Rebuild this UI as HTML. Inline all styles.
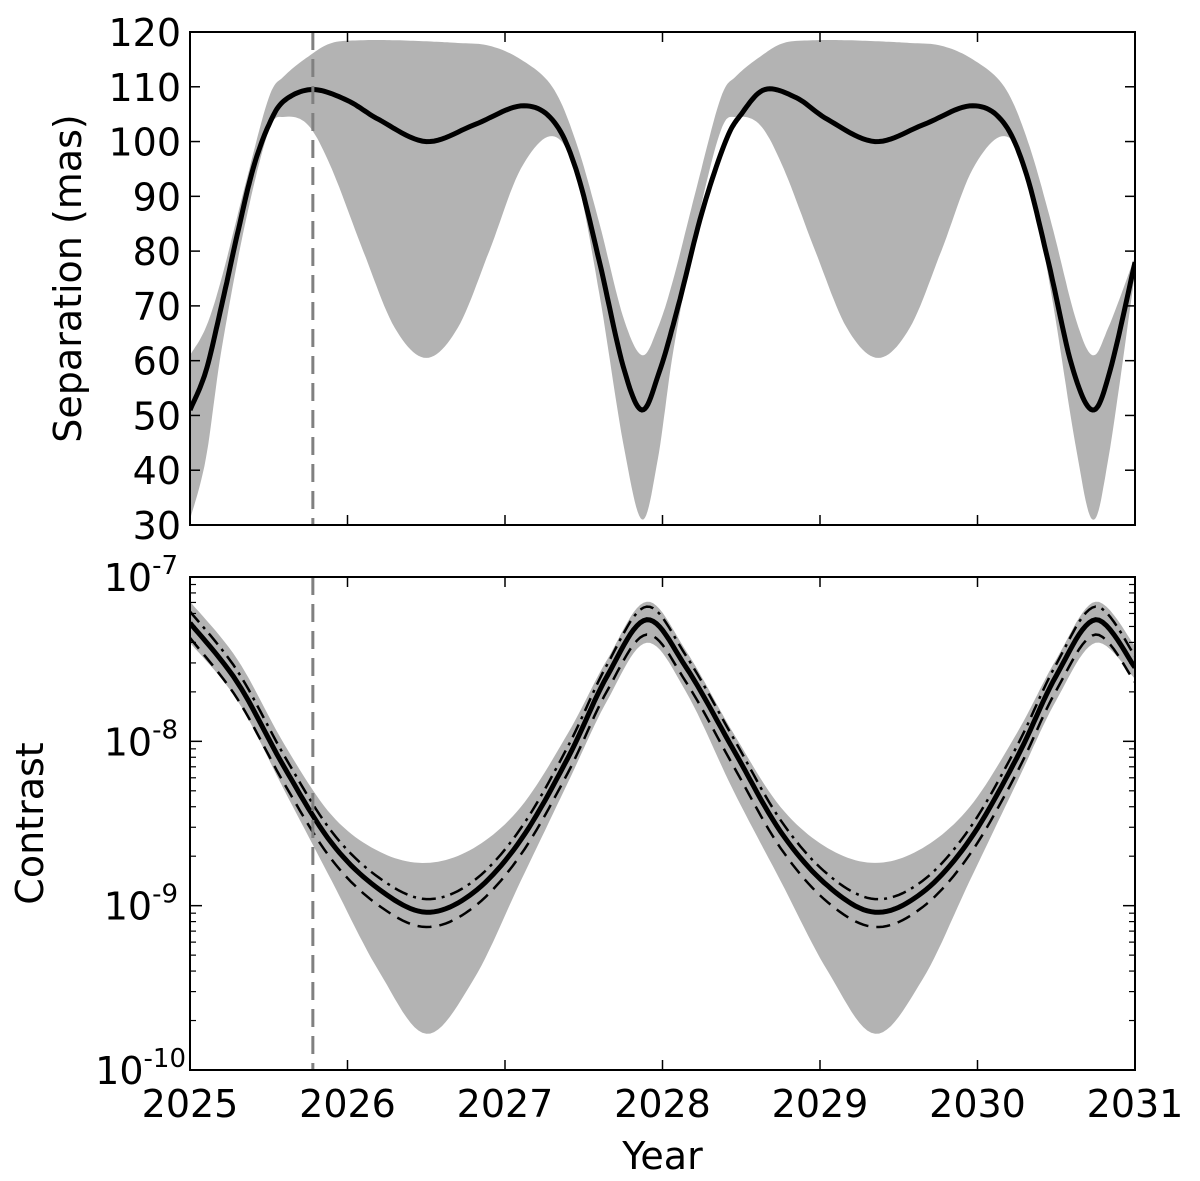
<!DOCTYPE html>
<html><head><meta charset="utf-8"><style>
html,body{margin:0;padding:0;background:#fff}
svg{display:block}
text{font-family:"DejaVu Sans","Liberation Sans",sans-serif;fill:#000}
</style></head><body>
<svg id="chart" width="1200" height="1181" viewBox="0 0 1200 1181" xmlns="http://www.w3.org/2000/svg"></svg>
<script>
// ---- data ----
const sepYears = [2025.0,2025.1,2025.2,2025.3,2025.4,2025.5,2025.6,2025.78,2026.0,2026.2,2026.5,2026.8,2027.1,2027.3,2027.45,2027.6,2027.75,2027.87,2027.98,2028.1,2028.25,2028.4,2028.5,2028.65,2028.85,2029.05,2029.35,2029.65,2029.95,2030.15,2030.3,2030.45,2030.6,2030.73,2030.84,2031.0];
const sepMain = [51,58,70,83,95,103,107.5,109.5,107.5,104,100,103,106.5,104,95,78,59,51,58,70,87,100,105,109.5,108,104,100,103,106.5,104,95,78,59,51,58,78];
const sepBandYears = [2025.0,2025.1,2025.2,2025.35,2025.5,2025.6,2025.75,2025.9,2026.1,2026.3,2026.5,2026.7,2026.9,2027.1,2027.3,2027.45,2027.6,2027.75,2027.87,2027.97,2028.07,2028.22,2028.37,2028.47,2028.62,2028.77,2028.97,2029.17,2029.37,2029.57,2029.77,2029.97,2030.17,2030.32,2030.47,2030.62,2030.73,2030.83,2031.0];
const sepUpper = [61,66,75,92,108,112,115.5,118,118.5,118.5,118.3,118,117.5,115,110,100,85,68,61,66,75,92,108,112,115.5,118,118.5,118.5,118.3,118,117.5,115,110,100,85,68,61,66,79];
const sepLower = [31,42,62,85,102,104.5,103,95,80,66,60.5,66,80,95,101,94,72,45,31,42,62,85,102,104.5,103,95,80,66,60.5,66,80,95,101,94,72,45,31,42,76];
const conYears = [2025.0,2025.3,2025.6,2025.9,2026.2,2026.5,2026.8,2027.1,2027.4,2027.65,2027.9,2028.15,2028.45,2028.75,2029.05,2029.35,2029.65,2029.95,2030.25,2030.5,2030.75,2031.0];
const conMain = [-7.28,-7.64,-8.16,-8.62,-8.9,-9.04,-8.92,-8.6,-8.1,-7.6,-7.26,-7.55,-8.05,-8.55,-8.88,-9.04,-8.92,-8.6,-8.1,-7.6,-7.26,-7.55];
const conDashed = [-7.37,-7.74,-8.26,-8.72,-9.0,-9.13,-9.01,-8.69,-8.19,-7.69,-7.35,-7.64,-8.15,-8.65,-8.98,-9.13,-9.01,-8.69,-8.19,-7.69,-7.35,-7.64];
const conDashDot = [-7.21,-7.57,-8.09,-8.55,-8.83,-8.96,-8.85,-8.53,-8.03,-7.53,-7.18,-7.48,-7.98,-8.48,-8.81,-8.96,-8.85,-8.53,-8.03,-7.53,-7.18,-7.48];
const conUpper = [-7.15,-7.5,-8.02,-8.45,-8.67,-8.74,-8.65,-8.4,-7.95,-7.5,-7.15,-7.45,-7.95,-8.4,-8.65,-8.74,-8.65,-8.4,-7.95,-7.5,-7.15,-7.42];
const conLower = [-7.4,-7.75,-8.3,-8.85,-9.4,-9.78,-9.45,-8.85,-8.25,-7.75,-7.4,-7.7,-8.3,-8.85,-9.4,-9.78,-9.45,-8.85,-8.25,-7.75,-7.4,-7.62];
const yearTicks = [2025,2026,2027,2028,2029,2030,2031];
const sepTicks = [30,40,50,60,70,80,90,100,110,120];
const conTicks = [-10,-9,-8,-7];
const markerYear = 2025.78;

// ---- geometry ----
const L=190,R=1135;
const T1=32,B1=525,T2=577,B2=1070;
const x=v=>L+(v-2025)/6*(R-L);
const y1=v=>B1-(v-30)/90*(B1-T1);
const y2=v=>B2-(v+10)/3*(B2-T2);
const svg=document.getElementById('chart');
const NS='http://www.w3.org/2000/svg';
function mk(tag,attrs,parent){const e=document.createElementNS(NS,tag);for(const k in attrs)e.setAttribute(k,attrs[k]);(parent||svg).appendChild(e);return e;}
function spline(xs,ys){
  const pts=[];
  for(let i=0;i<xs.length-1;i++){
    const i0=Math.max(0,i-1),i3=Math.min(xs.length-1,i+2);
    for(let s=0;s<12;s++){
      const t=s/12,t2=t*t,t3=t2*t;
      const f=(p0,p1,p2,p3)=>0.5*((2*p1)+(-p0+p2)*t+(2*p0-5*p1+4*p2-p3)*t2+(-p0+3*p1-3*p2+p3)*t3);
      pts.push([f(xs[i0],xs[i],xs[i+1],xs[i3]),f(ys[i0],ys[i],ys[i+1],ys[i3])]);
    }
  }
  pts.push([xs[xs.length-1],ys[ys.length-1]]);
  return pts;
}
function pathStr(pts,fx,fy){return pts.map((p,i)=>(i?'L':'M')+fx(p[0]).toFixed(1)+','+fy(p[1]).toFixed(1)).join('');}
function band(xs,up,lo,fy){
  const a=spline(xs,up),b=spline(xs,lo).reverse();
  return pathStr(a,x,fy)+b.map(p=>'L'+x(p[0]).toFixed(1)+','+fy(p[1]).toFixed(1)).join('')+'Z';
}
const cp1=mk('clipPath',{id:'c1'});mk('rect',{x:L,y:T1,width:R-L,height:B1-T1},cp1);
const cp2=mk('clipPath',{id:'c2'});mk('rect',{x:L,y:T2,width:R-L,height:B2-T2},cp2);

const g1=mk('g',{'clip-path':'url(#c1)'});


const sb=mk('path',{d:band(sepBandYears,sepUpper,sepLower,y1),fill:'#b3b3b3',stroke:'none'},g1);


const sl=mk('path',{d:pathStr(spline(sepYears,sepMain),x,y1),fill:'none',stroke:'#000','stroke-width':5},g1);



const g2=mk('g',{'clip-path':'url(#c2)'});


const cb=mk('path',{d:band(conYears,conUpper,conLower,y2),fill:'#b3b3b3',stroke:'none'},g2);


const cd=mk('path',{d:pathStr(spline(conYears,conDashed),x,y2),fill:'none',stroke:'#000','stroke-width':2.5,'stroke-dasharray':'14,8'},g2);


const cdd=mk('path',{d:pathStr(spline(conYears,conDashDot),x,y2),fill:'none',stroke:'#000','stroke-width':2.5,'stroke-dasharray':'14,6,3,6'},g2);


const cm=mk('path',{d:pathStr(spline(conYears,conMain),x,y2),fill:'none',stroke:'#000','stroke-width':5},g2);



[[T1,B1],[T2,B2]].forEach(([t,b],i)=>{
  const ml=mk('line',{x1:x(markerYear),x2:x(markerYear),y1:t,y2:b,stroke:'#808080','stroke-width':3,'stroke-dasharray':'18,9'});
  
  
});

yearTicks.forEach(v=>{
  [[T1,B1],[T2,B2]].forEach(([t,b])=>{
    mk('line',{x1:x(v),x2:x(v),y1:t,y2:t+10,stroke:'#000','stroke-width':1.5});
    mk('line',{x1:x(v),x2:x(v),y1:b,y2:b-10,stroke:'#000','stroke-width':1.5});
  });
  const tl=mk('text',{x:x(v),y:1117,'font-size':38,'text-anchor':'middle'});tl.textContent=v;
  
  
});
sepTicks.forEach(v=>{
  mk('line',{x1:L,x2:L+10,y1:y1(v),y2:y1(v),stroke:'#000','stroke-width':1.5});
  mk('line',{x1:R,x2:R-10,y1:y1(v),y2:y1(v),stroke:'#000','stroke-width':1.5});
  const tl=mk('text',{x:181,y:y1(v)+14,'font-size':38,'text-anchor':'end'});tl.textContent=v;
  
  
});
conTicks.forEach(v=>{
  mk('line',{x1:L,x2:L+12,y1:y2(v),y2:y2(v),stroke:'#000','stroke-width':1.5});
  mk('line',{x1:R,x2:R-12,y1:y2(v),y2:y2(v),stroke:'#000','stroke-width':1.5});
  if(v<-7){for(let m=2;m<=9;m++){const yy=y2(v+Math.log10(m));
    mk('line',{x1:L,x2:L+6,y1:yy,y2:yy,stroke:'#000','stroke-width':1.2});
    mk('line',{x1:R,x2:R-6,y1:yy,y2:yy,stroke:'#000','stroke-width':1.2});}}
  const tl=mk('text',{x:178,y:y2(v)+14,'font-size':38,'text-anchor':'end'});
  
  
  const a=document.createElementNS(NS,'tspan');a.textContent='10';tl.appendChild(a);
  const s=document.createElementNS(NS,'tspan');s.setAttribute('dy','-17');s.setAttribute('font-size','26');s.textContent=String(v);tl.appendChild(s);
  if(v===-10)tl.setAttribute('x',186);
});
[[T1,B1],[T2,B2]].forEach(([t,b],i)=>{
  const fr=mk('rect',{x:L,y:t,width:R-L,height:b-t,fill:'none',stroke:'#000','stroke-width':2});
  
  
});
const t1=mk('text',{x:0,y:0,'font-size':38,'text-anchor':'middle',transform:'translate(81,'+((T1+B1)/2)+') rotate(-90)'});t1.textContent='Separation (mas)';


const t2=mk('text',{x:0,y:0,'font-size':38,'text-anchor':'middle',transform:'translate(43,'+((T2+B2)/2)+') rotate(-90)'});t2.textContent='Contrast';


const xt=mk('text',{x:(L+R)/2,y:1169,'font-size':38,'text-anchor':'middle'});xt.textContent='Year';


</script>
</body></html>
